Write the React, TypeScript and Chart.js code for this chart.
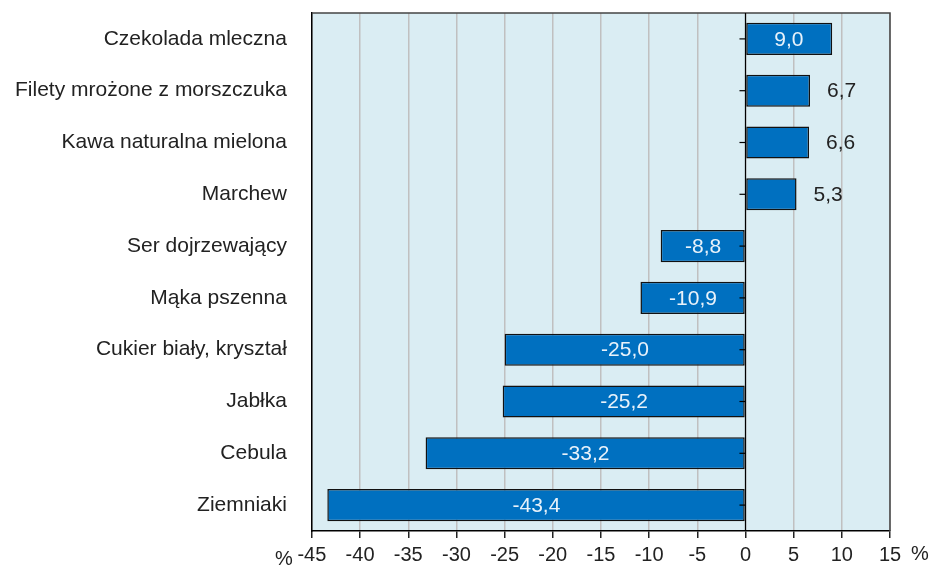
import React, { useEffect, useRef } from "react";
import { Chart, registerables } from "chart.js";

Chart.register(...registerables);

const categories = [
  "Czekolada mleczna",
  "Filety mrożone z morszczuka",
  "Kawa naturalna mielona",
  "Marchew",
  "Ser dojrzewający",
  "Mąka pszenna",
  "Cukier biały, kryształ",
  "Jabłka",
  "Cebula",
  "Ziemniaki",
];
const values = [9.0, 6.7, 6.6, 5.3, -8.8, -10.9, -25.0, -25.2, -33.2, -43.4];
const xMin = -45;
const xMax = 15;
const xStep = 5;
const unitLabel = "%";

const FONT = "Arial, 'Liberation Sans', sans-serif";

const fmt = (v: number) => v.toFixed(1).replace(".", ",");

const decorPlugin = {
  id: "decor",
  beforeDraw(chart: any) {
    const { ctx, chartArea: a } = chart;
    ctx.save();
    ctx.fillStyle = "#daedf3";
    ctx.fillRect(a.left, a.top, a.right - a.left, a.bottom - a.top);
    ctx.restore();
  },
  afterDatasetsDraw(chart: any) {
    const { ctx, chartArea: a, scales } = chart;
    const x0 = scales.x.getPixelForValue(0);
    ctx.save();
    // frame top & right
    ctx.strokeStyle = "#444";
    ctx.lineWidth = 1.5;
    ctx.beginPath();
    ctx.moveTo(a.left, a.top);
    ctx.lineTo(a.right, a.top);
    ctx.lineTo(a.right, a.bottom);
    ctx.stroke();
    // zero line
    ctx.strokeStyle = "#000";
    ctx.lineWidth = 1.2;
    ctx.beginPath();
    ctx.moveTo(x0, a.top);
    ctx.lineTo(x0, a.bottom);
    ctx.stroke();
    // category ticks on zero line
    const n = categories.length;
    for (let i = 0; i < n; i++) {
      const y = scales.y.getPixelForValue(i);
      ctx.beginPath();
      ctx.moveTo(x0 - 6, y);
      ctx.lineTo(x0, y);
      ctx.stroke();
    }
    // value labels
    ctx.font = `21px ${FONT}`;
    ctx.textBaseline = "middle";
    const meta = chart.getDatasetMeta(0);
    meta.data.forEach((bar: any, i: number) => {
      const v = values[i];
      const txt = fmt(v);
      const inside = Math.abs(v) >= 8;
      if (inside) {
        ctx.fillStyle = "#e8f2fa";
        ctx.textAlign = "center";
        ctx.fillText(txt, (bar.x + x0) / 2, bar.y + 1);
      } else {
        ctx.fillStyle = "#222";
        ctx.textAlign = "left";
        ctx.fillText(txt, bar.x + 17, bar.y + 1);
      }
    });
    // unit labels
    ctx.fillStyle = "#222";
    ctx.font = `20px ${FONT}`;
    ctx.textAlign = "center";
    ctx.fillText(unitLabel, a.left - 28, a.bottom + 28);
    ctx.fillText(unitLabel, a.right + 30, a.bottom + 23);
    ctx.restore();
  },
};

export default function App() {
  const ref = useRef<HTMLCanvasElement | null>(null);
  useEffect(() => {
    document.body.style.margin = "0";
    if (!ref.current) return;
    const chart = new Chart(ref.current, {
      type: "bar",
      data: {
        labels: categories,
        datasets: [
          {
            data: values,
            backgroundColor: "#0070c0",
            borderColor: "#111",
            borderWidth: 1.5,
            borderSkipped: false,
            barPercentage: 0.62,
            categoryPercentage: 1,
          },
        ],
      },
      options: {
        indexAxis: "y",
        animation: false,
        responsive: false,
        maintainAspectRatio: false,
        layout: { padding: { left: 15, right: 39, top: 13, bottom: -5 } },
        plugins: {
          legend: { display: false },
          tooltip: { enabled: false },
        },
        scales: {
          x: {
            min: xMin,
            max: xMax,
            ticks: {
              stepSize: xStep,
              color: "#222",
              font: { family: FONT, size: 20 },
              padding: 5,
              maxRotation: 0,
            },
            grid: {
              color: "#c0c0c0",
              lineWidth: 1.5,
              tickColor: "#222",
              tickLength: 7,
              drawTicks: true,
            },
            border: { color: "#000", width: 1.5 },
          },
          y: {
            ticks: {
              color: "#222",
              font: { family: FONT, size: 21 },
              padding: 0,
            },
            grid: {
              display: true,
              drawOnChartArea: false,
              drawTicks: true,
              tickLength: 25,
              tickColor: "rgba(0,0,0,0)",
            },
            border: { color: "#000", width: 1.5 },
          },
        },
      },
      plugins: [decorPlugin],
    });
    return () => chart.destroy();
  }, []);
  return <canvas ref={ref} width={929} height={567} style={{ display: "block" }} />;
}
